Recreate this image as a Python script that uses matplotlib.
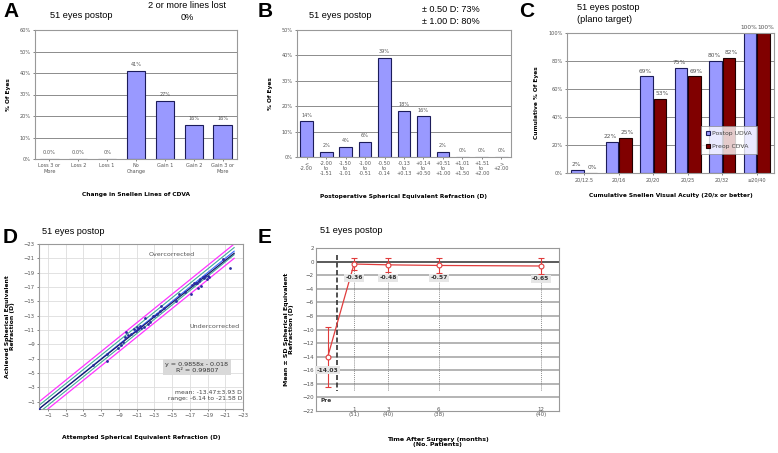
import numpy as np
import matplotlib
matplotlib.use('Agg')
import matplotlib.pyplot as plt

W, H = 778, 453

# Panel A data
a_cats = ['Loss 3 or\nMore', 'Loss 2', 'Loss 1', 'No\nChange', 'Gain 1', 'Gain 2', 'Gain 3 or\nMore']
a_vals = [0, 0, 0, 41, 27, 16, 16]
a_labels = ['0.0%', '0.0%', '0%', '41%', '27%', '16%', '16%']

# Panel B data
b_cats = ['<\n-2.00', '-2.00\nto\n-1.51', '-1.50\nto\n-1.01', '-1.00\nto\n-0.51', '-0.50\nto\n-0.14',
          '-0.13\nto\n+0.13', '+0.14\nto\n+0.50', '+0.51\nto\n+1.00', '+1.01\nto\n+1.50',
          '+1.51\nto\n+2.00', '>\n+2.00']
b_vals = [14, 2, 4, 6, 39, 18, 16, 2, 0, 0, 0]

# Panel C data
c_cats = ['20/12.5', '20/16', '20/20', '20/25', '20/32', '\u226520/40']
c_udva = [2, 22, 69, 75, 80, 100]
c_cdva = [0, 25, 53, 69, 82, 100]

# Panel D data (attempted vs achieved SE, D)
d_att = [0.0, -6.14, -7.65, -7.70, -8.90, -9.20, -9.50, -9.70, -9.80, -10.00, -10.40, -10.70,
         -10.90, -11.00, -11.20, -11.40, -11.50, -11.80, -12.00, -12.30, -12.50, -12.80, -13.00,
         -13.30, -13.60, -13.80, -14.10, -15.40, -15.80, -16.50, -17.10, -17.30, -17.50, -17.70,
         -17.80, -17.90, -18.00, -18.10, -18.30, -18.50, -18.60, -18.70, -18.90, -19.00, -19.20,
         -20.70, -21.58]
d_ach = [0.0, -6.10, -6.75, -7.60, -8.50, -8.90, -9.30, -10.00, -10.70, -10.30, -10.50, -11.20,
         -10.90, -11.40, -11.10, -11.60, -11.30, -11.50, -12.70, -11.80, -12.10, -12.90, -13.00,
         -13.20, -13.60, -14.40, -14.10, -15.00, -16.10, -16.30, -16.10, -17.30, -17.50, -17.60,
         -17.60, -16.80, -17.90, -18.10, -17.20, -18.40, -18.30, -18.60, -18.10, -18.50, -18.40,
         -20.90, -19.70]
d_slope, d_icpt = 0.9858, -0.018

# Panel E data
e_month = [-0.55, 1, 3, 6, 12]
e_mean = [-14.03, -0.36, -0.48, -0.57, -0.65]
e_sd = [4.4, 0.95, 1.0, 1.05, 1.2]
e_ticks = [1, 3, 6, 12]
e_ticklabels = ['1\n(51)', '3\n(40)', '6\n(38)', '12\n(40)']

BAR = '#9999ff'
EDGE = '#1c1c5a'
RED = '#800000'
GRID = '#8c8c8c'
TICK = '#555555'
TF = 'Liberation Sans'
LF = 'DejaVu Sans'


def box(l, t, r, b):
    return [l / W, 1 - b / H, (r - l) / W, (b - t) / H]


def ftext(x, y, s, **kw):
    fig.text(x / W, 1 - y / H, s, **kw)


def style_bar_axes(ax):
    for sp in ax.spines.values():
        sp.set_color('#999999')
        sp.set_linewidth(0.8)
    ax.yaxis.grid(True, color=GRID, linewidth=0.7)
    ax.set_axisbelow(True)
    ax.tick_params(labelsize=3.6, colors=TICK, length=1.5, width=0.5, pad=1.5)


fig = plt.figure(figsize=(W / 100, H / 100), dpi=100)

# ---- A ----
ax = fig.add_axes(box(35, 30, 237, 159))
x = np.arange(len(a_cats))
ax.bar(x, a_vals, width=0.63, color=BAR, edgecolor=EDGE, linewidth=0.8)
for xi, v, lab in zip(x, a_vals, a_labels):
    ax.text(xi, v + 1.8, lab, ha='center', va='bottom', fontsize=3.6, color=TICK)
ax.set_xlim(-0.5, len(a_cats) - 0.5)
ax.set_ylim(0, 60)
ax.set_yticks(range(0, 61, 10))
ax.set_yticklabels(['%d%%' % v for v in range(0, 61, 10)])
ax.set_xticks(x)
ax.set_xticklabels(a_cats, linespacing=1.1)
style_bar_axes(ax)
ax.set_xlabel('Change in Snellen Lines of CDVA', fontsize=4.2, fontweight='bold', family=LF, labelpad=13)
ax.set_ylabel('% Of Eyes', fontsize=4.2, fontweight='bold', family=LF, labelpad=6)
ftext(3, 17, 'A', fontsize=15, fontweight='bold', family=TF)
ftext(81, 15, '51 eyes postop', fontsize=6.6, family=TF, ha='center', va='center')
ftext(187, 6, '2 or more lines lost', fontsize=6.6, family=TF, ha='center', va='center')
ftext(187, 17, '0%', fontsize=6.6, family=TF, ha='center', va='center')

# ---- B ----
ax = fig.add_axes(box(297, 30, 511, 157))
x = np.arange(len(b_cats))
ax.bar(x, b_vals, width=0.65, color=BAR, edgecolor=EDGE, linewidth=0.8)
for xi, v in zip(x, b_vals):
    ax.text(xi, v + 1.5, '%d%%' % v, ha='center', va='bottom', fontsize=3.6, color=TICK)
ax.set_xlim(-0.5, len(b_cats) - 0.5)
ax.set_ylim(0, 50)
ax.set_yticks(range(0, 51, 10))
ax.set_yticklabels(['%d%%' % v for v in range(0, 51, 10)])
ax.set_xticks(x)
ax.set_xticklabels(b_cats, linespacing=1.0)
style_bar_axes(ax)
ax.set_xlabel('Postoperative Spherical Equivalent Refraction (D)', fontsize=4.2, fontweight='bold',
              family=LF, labelpad=13)
ax.set_ylabel('% Of Eyes', fontsize=4.2, fontweight='bold', family=LF, labelpad=6)
ftext(258, 17, 'B', fontsize=15, fontweight='bold', family=TF)
ftext(340, 15, '51 eyes postop', fontsize=6.6, family=TF, ha='center', va='center')
ftext(422, 10, '\u00b1 0.50 D: 73%', fontsize=6.6, family=TF, ha='left', va='center')
ftext(422, 21, '\u00b1 1.00 D: 80%', fontsize=6.6, family=TF, ha='left', va='center')

# ---- C ----
ax = fig.add_axes(box(567, 33, 774, 173))
x = np.arange(len(c_cats))
ax.bar(x - 0.2, c_udva, width=0.36, color=BAR, edgecolor=EDGE, linewidth=0.8, label='Postop UDVA')
ax.bar(x + 0.2, c_cdva, width=0.36, color=RED, edgecolor='#200000', linewidth=0.8, label='Preop CDVA')
for xi, v in zip(x, c_udva):
    ax.text(xi - 0.24, v + 2, '%d%%' % v, ha='center', va='bottom', fontsize=4.2, color=TICK)
for xi, v in zip(x, c_cdva):
    ax.text(xi + 0.25, v + 2, '%d%%' % v, ha='center', va='bottom', fontsize=4.2, color=TICK)
ax.set_xlim(-0.5, len(c_cats) - 0.5)
ax.set_ylim(0, 100)
ax.set_yticks(range(0, 101, 20))
ax.set_yticklabels(['%d%%' % v for v in range(0, 101, 20)])
ax.set_xticks(x)
ax.set_xticklabels(c_cats)
style_bar_axes(ax)
ax.set_xlabel('Cumulative Snellen Visual Acuity (20/x or better)', fontsize=4.2, fontweight='bold',
              family=LF, labelpad=8)
ax.set_ylabel('Cumulative % Of Eyes', fontsize=4.2, fontweight='bold', family=LF, labelpad=7)
leg = ax.legend(loc='upper left', bbox_to_anchor=((698 - 567) / 207, 1 - (123 - 33) / 140),
                fontsize=4.4, frameon=True, fancybox=False, handlelength=0.7, handleheight=0.7,
                handletextpad=0.3, labelspacing=1.3, borderpad=0.8)
leg.get_frame().set_edgecolor('#888888')
leg.get_frame().set_linewidth(0.6)
for t in leg.get_texts():
    t.set_color('#444444')
ftext(519, 17, 'C', fontsize=15, fontweight='bold', family=TF)
ftext(577, 7, '51 eyes postop', fontsize=6.6, family=TF, ha='left', va='center')
ftext(577, 19, '(plano target)', fontsize=6.6, family=TF, ha='left', va='center')

# ---- D ----
ax = fig.add_axes(box(39, 244, 243, 409))
lx = np.array([0.0, -22.0])
ax.plot(lx, lx + 1, color='#ff33ff', linewidth=0.9)
ax.plot(lx, lx - 1, color='#ff33ff', linewidth=0.9)
ax.plot(lx, lx + 0.5, color='#44aa99', linewidth=0.8)
ax.plot(lx, lx - 0.5, color='#44aa99', linewidth=0.8)
ax.plot(lx, lx, color='#3366ff', linewidth=0.8)
ax.plot(lx, d_slope * lx + d_icpt, color='#1a1a66', linewidth=0.9)
ax.scatter(d_att, d_ach, s=4, color='#2a2aa0', zorder=5, linewidths=0)
ax.set_xlim(0, -23)
ax.set_ylim(0, -23)
ax.set_xticks(range(-1, -24, -2))
ax.set_yticks(range(-1, -24, -2))
ax.grid(True, color='#dddddd', linewidth=0.6)
ax.set_axisbelow(True)
for sp in ax.spines.values():
    sp.set_color('#999999')
    sp.set_linewidth(0.8)
ax.tick_params(labelsize=3.8, colors=TICK, length=1.5, width=0.5, pad=1.5)
ax.text(-15, -21.6, 'Overcorrected', fontsize=4.6, color='#555555', ha='center', va='center')
ax.text(-19.8, -11.5, 'Undercorrected', fontsize=4.6, color='#555555', ha='center', va='center')
ax.text(-17.8, -5.8, 'y = 0.9858x - 0.018\nR\u00b2 = 0.99807', fontsize=4.6, color='#333333',
        ha='center', va='center', linespacing=1.2,
        bbox=dict(boxstyle='square,pad=0.4', facecolor='#d9d9d9', edgecolor='none'))
ax.text(-22.9, -1.9, 'mean: -13.47\u00b13.93 D\nrange: -6.14 to -21.58 D', fontsize=4.4,
        color='#444444', ha='right', va='center', linespacing=1.2)
ax.set_xlabel('Attempted Spherical Equivalent Refraction (D)', fontsize=4.3, fontweight='bold',
              family=LF, labelpad=12)
ax.set_ylabel('Achieved Spherical Equivalent\nRefraction (D)', fontsize=4.3, fontweight='bold',
              family=LF, labelpad=6)
ftext(3, 243, 'D', fontsize=15, fontweight='bold', family=TF)
ftext(42, 231, '51 eyes postop', fontsize=6.6, family=TF, ha='left', va='center')

# ---- E ----
ax = fig.add_axes(box(316, 248, 559, 411))
for yv in range(-20, 1, 2):
    ax.axhline(yv, color='#5a5a5a' if yv == 0 else '#b4b4b4', linewidth=1.4, zorder=0)
for m in e_ticks:
    ax.plot([m, m], [0, -19], color='#666666', linestyle=(0, (1.5, 1.5)), linewidth=0.5, zorder=1)
ax.plot([0, 0], [1, -19], color='#333333', linestyle=(0, (3, 1.5)), linewidth=1.2, zorder=1)
ax.errorbar(e_month, e_mean, yerr=e_sd, color='#e03c3c', linewidth=0.9, elinewidth=0.8,
            capsize=2.2, capthick=0.8, marker='o', markersize=3.5, markerfacecolor='white',
            markeredgecolor='#e03c3c', markeredgewidth=0.8, zorder=4)
lab_y = [-16.0, -2.4, -2.4, -2.4, -2.5]
for m, v, ly in zip(e_month, e_mean, lab_y):
    ax.text(m, ly, '%.2f' % v, fontsize=4.3, fontweight='bold', color='#333333', ha='center',
            va='center', family=LF, zorder=5,
            bbox=dict(boxstyle='square,pad=0.25', facecolor='#e6e6e6', edgecolor='none'))
ax.text(-0.62, -20.4, 'Pre', fontsize=4.2, fontweight='bold', color='#333333', ha='center',
        va='center', family=LF)
ax.set_xlim(-1.24, 13.08)
ax.set_ylim(-22, 2)
ax.set_yticks(range(-22, 3, 2))
ax.set_xticks(e_ticks)
ax.set_xticklabels(e_ticklabels, linespacing=1.1)
for sp in ax.spines.values():
    sp.set_color('#999999')
    sp.set_linewidth(0.8)
ax.tick_params(labelsize=4.0, colors=TICK, length=0, width=0.5, pad=1.5)
ax.tick_params(axis='x', pad=-3)
ax.set_xlabel('Time After Surgery (months)\n(No. Patients)', fontsize=4.5, fontweight='bold',
              family=LF, labelpad=14, linespacing=1.1)
ax.set_ylabel('Mean \u00b1 SD Spherical Equivalent\nRefraction (D)', fontsize=4.5, fontweight='bold',
              family=LF, labelpad=6, linespacing=1.1)
ftext(258, 243, 'E', fontsize=15, fontweight='bold', family=TF)
ftext(320, 230, '51 eyes postop', fontsize=6.6, family=TF, ha='left', va='center')

fig.savefig('out.png', dpi=100)
